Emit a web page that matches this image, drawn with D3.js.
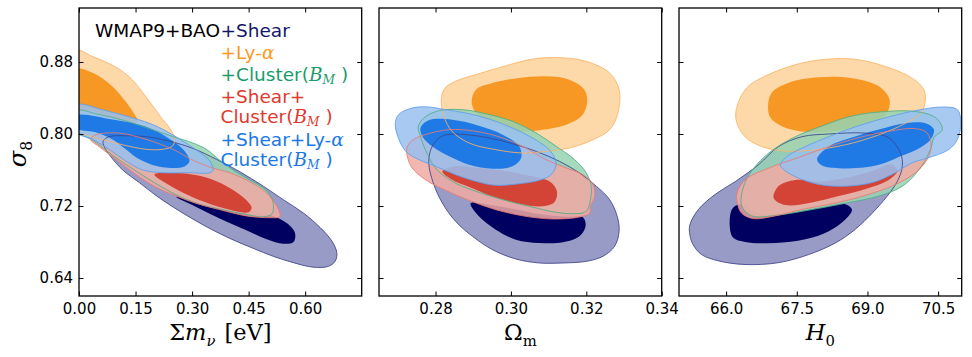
<!DOCTYPE html>
<html>
<head>
<meta charset="utf-8">
<script src="https://cdn.jsdelivr.net/npm/d3@7"></script>
<style>
  body { margin: 0; background: #fff; }
</style>
</head>
<body>
<svg id="fig" width="972" height="357"></svg>
<script>
'use strict';

// tick values
var mnuTicks = [0.00, 0.15, 0.30, 0.45, 0.60];
var omTicks = [0.28, 0.30, 0.32, 0.34];
var h0Ticks = [66.0, 67.5, 69.0, 70.5];
var s8Ticks = [0.64, 0.72, 0.80, 0.88];

// ---- sum m_nu vs sigma8 (95% / 68% contours) ----
var shearMnu95 = [[0.064,0.792],[0.080,0.797],[0.124,0.798],[0.178,0.797],[0.240,0.792],[0.302,0.784],[0.364,0.772],[0.427,0.758],[0.489,0.742],[0.542,0.727],[0.596,0.712],[0.640,0.696],[0.671,0.681],[0.684,0.668],[0.680,0.659],[0.662,0.653],[0.622,0.652],[0.569,0.657],[0.516,0.664],[0.462,0.673],[0.400,0.684],[0.338,0.697],[0.276,0.712],[0.213,0.729],[0.160,0.746],[0.116,0.760],[0.084,0.775],[0.067,0.786]];
var shearMnu68 = [[0.258,0.730],[0.302,0.727],[0.373,0.721],[0.444,0.716],[0.507,0.710],[0.551,0.701],[0.573,0.690],[0.569,0.680],[0.542,0.678],[0.498,0.683],[0.444,0.693],[0.373,0.706],[0.311,0.719]];
var lyaMnu95 = [[-0.01,0.893],[0.036,0.886],[0.071,0.880],[0.107,0.872],[0.142,0.860],[0.169,0.846],[0.196,0.831],[0.222,0.816],[0.240,0.807],[0.253,0.796],[0.249,0.787],[0.222,0.783],[0.178,0.783],[0.116,0.788],[0.062,0.794],[0.018,0.799],[-0.01,0.801]];
var lyaMnu68 = [[-0.01,0.872],[0.036,0.868],[0.071,0.859],[0.098,0.849],[0.124,0.836],[0.147,0.822],[0.156,0.814],[0.140,0.812],[0.089,0.818],[0.040,0.825],[-0.01,0.831]];
var clusterMnu95 = [[-0.01,0.826],[0.05,0.822],[0.12,0.815],[0.20,0.804],[0.25,0.797],[0.302,0.790],[0.338,0.783],[0.373,0.771],[0.409,0.760],[0.453,0.749],[0.489,0.740],[0.511,0.729],[0.516,0.718],[0.511,0.711],[0.489,0.708],[0.44,0.711],[0.38,0.716],[0.32,0.722],[0.26,0.732],[0.20,0.746],[0.14,0.762],[0.09,0.776],[0.04,0.792],[-0.01,0.805]];
var shearClusterMnu95 = [[0.031,0.794],[0.044,0.799],[0.107,0.801],[0.178,0.794],[0.249,0.783],[0.302,0.771],[0.356,0.762],[0.400,0.757],[0.453,0.747],[0.493,0.736],[0.520,0.723],[0.533,0.712],[0.533,0.708],[0.507,0.707],[0.444,0.709],[0.373,0.716],[0.311,0.723],[0.258,0.731],[0.204,0.741],[0.151,0.755],[0.098,0.772],[0.053,0.786]];
var shearClusterMnu68 = [[0.20,0.755],[0.25,0.757],[0.30,0.755],[0.35,0.750],[0.40,0.740],[0.44,0.728],[0.458,0.718],[0.45,0.713],[0.42,0.714],[0.38,0.718],[0.33,0.725],[0.28,0.734],[0.24,0.743]];
var allMnu95 = [[-0.01,0.832],[0.071,0.826],[0.142,0.818],[0.204,0.809],[0.253,0.798],[0.298,0.786],[0.329,0.777],[0.349,0.769],[0.356,0.760],[0.348,0.757],[0.293,0.757],[0.222,0.757],[0.169,0.760],[0.124,0.770],[0.080,0.783],[0.036,0.794],[-0.01,0.803]];
var allMnu68 = [[-0.01,0.820],[0.089,0.816],[0.178,0.808],[0.231,0.797],[0.276,0.783],[0.293,0.770],[0.280,0.764],[0.222,0.763],[0.160,0.772],[0.124,0.783],[0.089,0.794],[0.044,0.802],[-0.01,0.807]];

// ---- Omega_m vs sigma8 ----
var shearOm95 = [[0.2831,0.7993],[0.2880,0.7993],[0.2942,0.7956],[0.3004,0.7893],[0.3067,0.7807],[0.3129,0.7696],[0.3182,0.7567],[0.3227,0.7418],[0.3262,0.7270],[0.3282,0.7085],[0.3287,0.6918],[0.3275,0.6752],[0.3244,0.6641],[0.3200,0.6585],[0.3138,0.6567],[0.3075,0.6567],[0.3013,0.6611],[0.2951,0.6715],[0.2898,0.6863],[0.2853,0.7030],[0.2818,0.7233],[0.2794,0.7456],[0.2782,0.7678],[0.2789,0.7844],[0.2809,0.7956]];
var shearOm68 = [[0.2893,0.7230],[0.2942,0.7215],[0.3004,0.7170],[0.3075,0.7110],[0.3147,0.7080],[0.3191,0.7075],[0.3198,0.6974],[0.3182,0.6863],[0.3138,0.6796],[0.3075,0.6789],[0.3013,0.6826],[0.2960,0.6937],[0.2915,0.7085]];
var lyaOm95 = [[0.2816,0.8307],[0.2822,0.8493],[0.2853,0.8585],[0.2915,0.8670],[0.2987,0.8759],[0.3058,0.8833],[0.3129,0.8848],[0.3200,0.8807],[0.3262,0.8678],[0.3287,0.8493],[0.3284,0.8233],[0.3262,0.8048],[0.3218,0.7937],[0.3155,0.7844],[0.3093,0.7807],[0.3031,0.7789],[0.2960,0.7826],[0.2889,0.7900],[0.2840,0.8048]];
var lyaOm68 = [[0.2896,0.8344],[0.2907,0.8493],[0.2951,0.8567],[0.3022,0.8622],[0.3093,0.8641],[0.3155,0.8604],[0.3195,0.8493],[0.3202,0.8344],[0.3187,0.8196],[0.3147,0.8104],[0.3084,0.8048],[0.3022,0.8030],[0.2969,0.8085],[0.2915,0.8196]];
var clusterOm95 = [[0.2754,0.8078],[0.2769,0.8178],[0.2809,0.8259],[0.2871,0.8270],[0.2933,0.8226],[0.3004,0.8141],[0.3067,0.8011],[0.3120,0.7863],[0.3169,0.7715],[0.3200,0.7567],[0.3213,0.7419],[0.3211,0.7270],[0.3200,0.7141],[0.3173,0.7115],[0.3120,0.7130],[0.3049,0.7196],[0.2978,0.7270],[0.2907,0.7363],[0.2844,0.7474],[0.2800,0.7622],[0.2773,0.7826],[0.2760,0.7974]];
var shearClusterOm95 = [[0.2724,0.7844],[0.2738,0.7930],[0.2773,0.7993],[0.2835,0.8048],[0.2907,0.8030],[0.2978,0.7956],[0.3040,0.7844],[0.3093,0.7715],[0.3147,0.7622],[0.3191,0.7548],[0.3218,0.7437],[0.3222,0.7307],[0.3211,0.7196],[0.3209,0.7122],[0.3182,0.7078],[0.3111,0.7056],[0.3040,0.7085],[0.2960,0.7159],[0.2889,0.7263],[0.2827,0.7374],[0.2773,0.7493],[0.2738,0.7622],[0.2725,0.7752]];
var shearClusterOm68 = [[0.2818,0.7585],[0.2853,0.7641],[0.2915,0.7622],[0.2987,0.7585],[0.3049,0.7537],[0.3102,0.7474],[0.3122,0.7363],[0.3115,0.7241],[0.3084,0.7196],[0.3022,0.7226],[0.2951,0.7307],[0.2889,0.7411],[0.2840,0.7500]];
var allOm95 = [[0.2693,0.8104],[0.2702,0.8215],[0.2738,0.8289],[0.2782,0.8300],[0.2827,0.8270],[0.2880,0.8233],[0.2942,0.8167],[0.3004,0.8067],[0.3062,0.7944],[0.3104,0.7815],[0.3120,0.7678],[0.3109,0.7559],[0.3075,0.7485],[0.3022,0.7448],[0.2960,0.7430],[0.2907,0.7474],[0.2853,0.7548],[0.2800,0.7641],[0.2756,0.7715],[0.2724,0.7796],[0.2707,0.7900]];
var allOm68 = [[0.2760,0.8067],[0.2782,0.8152],[0.2844,0.8159],[0.2915,0.8093],[0.2978,0.7993],[0.3022,0.7863],[0.3027,0.7733],[0.3004,0.7641],[0.2951,0.7615],[0.2889,0.7659],[0.2836,0.7752],[0.2791,0.7863],[0.2766,0.7967]];

// ---- H0 vs sigma8 ----
var shearH95 = [[65.23,0.699],[65.41,0.716],[65.77,0.733],[66.19,0.747],[66.69,0.766],[67.11,0.786],[67.61,0.797],[68.18,0.800],[68.96,0.801],[69.45,0.796],[69.70,0.779],[69.74,0.764],[69.63,0.747],[69.42,0.731],[69.10,0.712],[68.74,0.694],[68.32,0.679],[67.75,0.666],[67.11,0.657],[66.40,0.655],[65.84,0.659],[65.48,0.666],[65.30,0.677],[65.23,0.688]];
var shearH68 = [[66.12,0.716],[66.30,0.722],[66.69,0.712],[67.26,0.712],[67.96,0.718],[68.53,0.722],[68.67,0.716],[68.53,0.705],[68.18,0.692],[67.68,0.683],[67.04,0.679],[66.40,0.680],[66.13,0.686]];
var lyaH95 = [[66.21,0.816],[66.25,0.834],[66.47,0.853],[66.90,0.866],[67.47,0.877],[68.11,0.883],[68.74,0.883],[69.38,0.875],[69.95,0.862],[70.20,0.849],[70.22,0.834],[70.13,0.823],[69.81,0.812],[69.24,0.799],[68.53,0.788],[67.82,0.782],[67.26,0.781],[66.76,0.786],[66.40,0.797]];
var lyaH68 = [[66.89,0.831],[66.97,0.846],[67.33,0.857],[67.96,0.863],[68.67,0.862],[69.24,0.853],[69.47,0.838],[69.40,0.822],[69.10,0.812],[68.53,0.805],[67.82,0.802],[67.26,0.807],[66.94,0.818]];
var clusterH95 = [[66.33,0.720],[66.40,0.746],[66.65,0.766],[67.01,0.783],[67.47,0.797],[68.04,0.809],[68.67,0.820],[69.38,0.825],[70.02,0.825],[70.45,0.818],[70.59,0.805],[70.41,0.796],[70.34,0.783],[70.09,0.760],[69.74,0.742],[69.24,0.731],[68.53,0.723],[67.82,0.716],[67.11,0.710],[66.55,0.709]];
var shearClusterH95 = [[66.23,0.734],[66.40,0.749],[66.90,0.762],[67.54,0.774],[68.18,0.786],[68.82,0.796],[69.45,0.803],[70.02,0.806],[70.27,0.801],[70.35,0.786],[70.27,0.772],[70.02,0.757],[69.60,0.744],[69.03,0.733],[68.39,0.724],[67.68,0.717],[67.04,0.709],[66.58,0.706],[66.33,0.712],[66.24,0.723]];
var shearClusterH68 = [[67.01,0.729],[67.11,0.742],[67.47,0.749],[67.96,0.747],[68.53,0.751],[69.10,0.759],[69.52,0.766],[69.63,0.759],[69.45,0.749],[68.96,0.739],[68.39,0.731],[67.82,0.724],[67.26,0.721]];
var allH95 = [[67.15,0.765],[67.29,0.775],[67.68,0.786],[68.18,0.797],[68.74,0.808],[69.38,0.818],[70.02,0.826],[70.59,0.830],[70.91,0.827],[70.98,0.812],[70.91,0.794],[70.73,0.783],[70.38,0.775],[69.95,0.768],[69.52,0.755],[69.10,0.746],[68.53,0.742],[67.96,0.744],[67.54,0.751],[67.26,0.759]];
var allH68 = [[67.93,0.772],[68.18,0.786],[68.67,0.796],[69.24,0.805],[69.81,0.812],[70.23,0.812],[70.41,0.805],[70.34,0.794],[70.09,0.784],[69.74,0.776],[69.38,0.768],[68.96,0.763],[68.39,0.762],[68.04,0.765]];

// drawing order and look of each data combination
var styles = [
  {key: 'shear',        fill95: '#989bc5', op95: 1,    fill68: '#000060', op68: 1,    edge: '#3f4388'},
  {key: 'lya',          fill95: '#fdd4a0', op95: 0.9,  fill68: '#f8951c', op68: 0.95, edge: '#fbb466'},
  {key: 'cluster',      fill95: '#95d3b4', op95: 0.85, fill68: null,      op68: 0,    edge: '#4fae84'},
  {key: 'shearCluster', fill95: '#f1aaa3', op95: 0.85, fill68: '#d0392b', op68: 0.9,  edge: '#ec7a70'},
  {key: 'all',          fill95: '#98bff0', op95: 0.85, fill68: '#1272e4', op68: 0.9,  edge: '#5f9fec'}
];

var panels = [
  {x0: 79,  dom: [0, 0.75],    ticks: mnuTicks, fmt: d3.format('.2f'), yLabels: true,
   sets: {shear: [shearMnu95, shearMnu68], lya: [lyaMnu95, lyaMnu68], cluster: [clusterMnu95, null],
          shearCluster: [shearClusterMnu95, shearClusterMnu68], all: [allMnu95, allMnu68]}},
  {x0: 379, dom: [0.265, 0.34], ticks: omTicks, fmt: d3.format('.2f'), yLabels: false,
   sets: {shear: [shearOm95, shearOm68], lya: [lyaOm95, lyaOm68], cluster: [clusterOm95, null],
          shearCluster: [shearClusterOm95, shearClusterOm68], all: [allOm95, allOm68]}},
  {x0: 679, dom: [65, 71],     ticks: h0Ticks, fmt: d3.format('.1f'), yLabels: false,
   sets: {shear: [shearH95, shearH68], lya: [lyaH95, lyaH68], cluster: [clusterH95, null],
          shearCluster: [shearClusterH95, shearClusterH68], all: [allH95, allH68]}}
];

var sans = '"DejaVu Sans", sans-serif', serif = '"DejaVu Serif", serif';
var pw = 282.7, plotTop = 8, ph = 288;
var svg = d3.select('#fig');
var y = d3.scaleLinear().domain([0.62, 0.94]).range([ph, 0]);

panels.forEach(function(p, pi) {
  var x = d3.scaleLinear().domain(p.dom).range([0, pw]);
  var g = svg.append('g').attr('transform', 'translate(' + p.x0 + ',' + plotTop + ')');
  var cid = 'clip' + pi;
  g.append('clipPath').attr('id', cid).append('rect').attr('width', pw).attr('height', ph);
  var line = d3.line().x(function(d) { return x(d[0]); }).y(function(d) { return y(d[1]); })
    .curve(d3.curveCatmullRomClosed.alpha(0.5));
  var plot = g.append('g').attr('clip-path', 'url(#' + cid + ')');

  // fills first, contour edges on top
  styles.forEach(function(s) {
    var c = p.sets[s.key];
    plot.append('path').attr('d', line(c[0]))
      .attr('fill', s.fill95).attr('fill-opacity', s.op95).attr('stroke', 'none');
    if (c[1] && s.fill68)
      plot.append('path').attr('d', line(c[1]))
        .attr('fill', s.fill68).attr('fill-opacity', s.op68).attr('stroke', 'none');
  });
  styles.forEach(function(s) {
    plot.append('path').attr('d', line(p.sets[s.key][0]))
      .attr('fill', 'none').attr('stroke', s.edge).attr('stroke-width', 1)
      .attr('stroke-opacity', 0.85);
  });

  // axes, ticks pointing inwards
  g.append('g').attr('transform', 'translate(0,' + ph + ')')
    .call(d3.axisBottom(x).tickValues(p.ticks).tickFormat(p.fmt)
          .tickSize(-4.5).tickSizeOuter(0).tickPadding(7));
  g.append('g').call(d3.axisTop(x).tickValues(p.ticks).tickFormat('')
          .tickSize(-4.5).tickSizeOuter(0));
  g.append('g').call(d3.axisLeft(y).tickValues(s8Ticks)
          .tickFormat(p.yLabels ? d3.format('.2f') : '')
          .tickSize(-4.5).tickSizeOuter(0).tickPadding(6));
  g.append('g').attr('transform', 'translate(' + pw + ',0)')
    .call(d3.axisRight(y).tickValues(s8Ticks).tickFormat('')
          .tickSize(-4.5).tickSizeOuter(0));
  g.selectAll('.domain').remove();
  g.selectAll('.tick line').attr('stroke', '#000').attr('stroke-width', 1);
  g.selectAll('.tick text').style('font-family', sans).style('font-size', '15px')
    .attr('fill', '#000');

  g.append('rect').attr('width', pw).attr('height', ph)
    .attr('fill', 'none').attr('stroke', '#000').attr('stroke-width', 1.3);
});

// math-ish text helper: parts with optional font, italic, subscript
function mathText(sel, parts, size, subShift) {
  var shift = 0;
  parts.forEach(function(pt) {
    var t = sel.append('tspan').text(pt.t);
    if (pt.f) t.style('font-family', pt.f);
    if (pt.it) t.style('font-style', 'italic');
    var want = pt.sub ? size * subShift : 0;
    if (want !== shift) { t.attr('dy', want - shift); shift = want; }
    if (pt.sub) t.style('font-size', (size * 0.66) + 'px');
    if (pt.dx) t.attr('dx', pt.dx);
  });
}

function label(xp, yp, size, parts, rot) {
  var t = svg.append('text').attr('text-anchor', 'middle')
    .style('font-family', serif).style('font-size', size + 'px').attr('fill', '#000');
  if (rot) t.attr('transform', 'translate(' + xp + ',' + yp + ') rotate(-90)');
  else t.attr('x', xp).attr('y', yp);
  mathText(t, parts, size, 0.26);
}

// axis labels
label(79 + pw / 2, 340, 22.5, [{t: 'Σ'}, {t: 'm', it: 1}, {t: 'ν', it: 1, sub: 1}, {t: '[eV]', dx: 9}]);
label(379 + pw / 2, 340, 22.5, [{t: 'Ω'}, {t: 'm', sub: 1}]);
label(679 + pw / 2, 340, 22.5, [{t: 'H', it: 1}, {t: '0', sub: 1}]);
label(26, 154, 24, [{t: 'σ', it: 1}, {t: '8', sub: 1}], true);

// legend
var legend = [
  {c: '#161668', y: 37,  parts: [{t: '+Shear'}]},
  {c: '#fd9a24', y: 59,  parts: [{t: '+Ly-'}, {t: 'α', f: serif, it: 1}]},
  {c: '#1c9b6c', y: 81,  parts: [{t: '+Cluster('}, {t: 'B', f: serif, it: 1}, {t: 'M', f: serif, it: 1, sub: 1}, {t: ' )'}]},
  {c: '#e0392d', y: 103, parts: [{t: '+Shear+'}]},
  {c: '#e0392d', y: 123, parts: [{t: 'Cluster('}, {t: 'B', f: serif, it: 1}, {t: 'M', f: serif, it: 1, sub: 1}, {t: ' )'}]},
  {c: '#1a78e8', y: 145.5, parts: [{t: '+Shear+Ly-'}, {t: 'α', f: serif, it: 1}]},
  {c: '#1a78e8', y: 166, parts: [{t: 'Cluster('}, {t: 'B', f: serif, it: 1}, {t: 'M', f: serif, it: 1, sub: 1}, {t: ' )'}]}
];
svg.append('text').attr('x', 220).attr('y', 37).attr('text-anchor', 'end')
  .style('font-family', sans).style('font-size', '18.5px').attr('fill', '#000').text('WMAP9+BAO');
legend.forEach(function(l) {
  var t = svg.append('text').attr('x', 220.5).attr('y', l.y)
    .style('font-family', sans).style('font-size', '18.5px').style('white-space', 'pre')
    .attr('fill', l.c);
  mathText(t, l.parts, 18.5, 0.14);
});
</script>
</body>
</html>
